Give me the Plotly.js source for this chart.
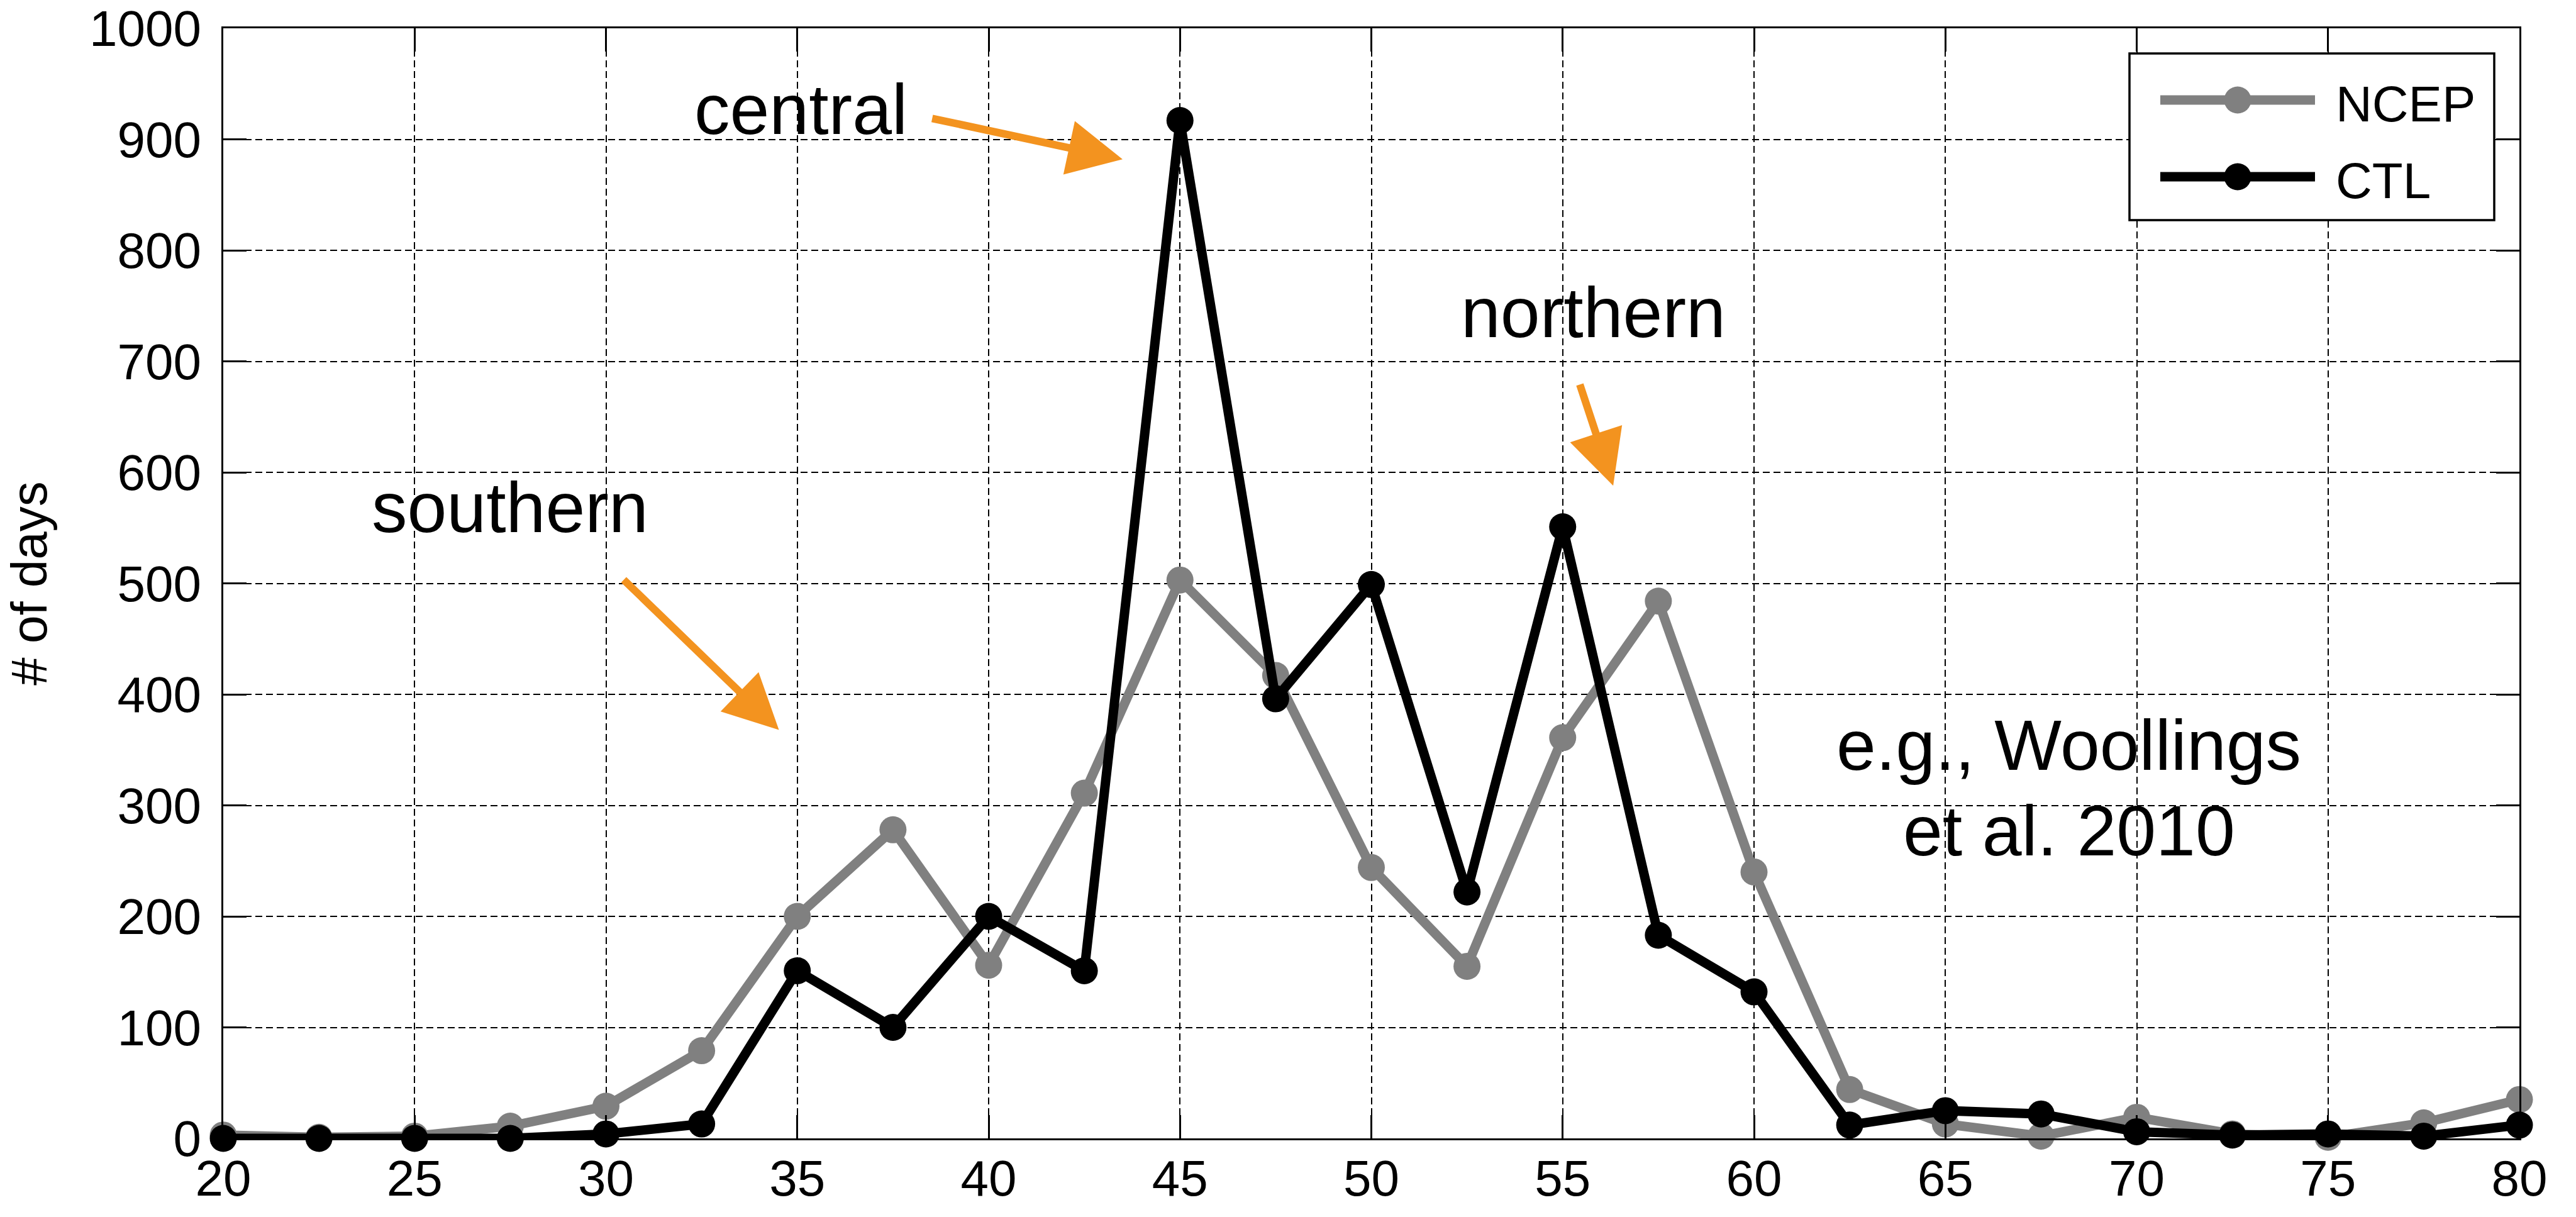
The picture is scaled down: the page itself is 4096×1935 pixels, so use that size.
<!DOCTYPE html>
<html>
<head>
<meta charset="utf-8">
<script src="https://cdn.plot.ly/plotly-3.0.1.min.js"></script>
<style>html,body{margin:0;padding:0;background:#fff;}#chart{width:4096px;height:1935px;}</style>
</head>
<body>
<div id="chart"></div>
<script>
// ---- data ----
const latitude = [20, 22.5, 25, 27.5, 30, 32.5, 35, 37.5, 40, 42.5, 45, 47.5, 50, 52.5, 55, 57.5, 60, 62.5, 65, 67.5, 70, 72.5, 75, 77.5, 80];
const ncepDays = [3, 1, 2, 11, 29, 79, 200, 278, 156, 311, 503, 417, 244, 155, 361, 484, 240, 44, 13, 2, 19, 4, 1, 14, 35];
const ctlDays  = [0, 0, 0, 0, 4, 13, 151, 100, 200, 151, 917, 396, 499, 222, 551, 183, 132, 12, 25, 22, 6, 3, 4, 2, 12];
const seriesNames = ['NCEP', 'CTL'];
const xTicks = [20, 25, 30, 35, 40, 45, 50, 55, 60, 65, 70, 75, 80];
const yTicks = [0, 100, 200, 300, 400, 500, 600, 700, 800, 900, 1000];
const yTitle = '# of days';
const labels = [
  {text: 'central', x: 35.1, y: 927},
  {text: 'southern', x: 27.5, y: 568},
  {text: 'northern', x: 55.8, y: 744},
  {text: 'e.g., Woollings', x: 68.23, y: 354},
  {text: 'et al. 2010', x: 68.23, y: 277}
];
const arrows = [
  {tailX: 38.5, tailY: 919, headX: 43.5, headY: 882},
  {tailX: 30.44, tailY: 504, headX: 34.52, headY: 368},
  {tailX: 55.44, tailY: 680, headX: 56.32, headY: 588}
];

// ---- styles ----
const FONT = 'Liberation Sans, Arial, Helvetica, sans-serif';
const colors = ['rgb(128,128,128)', '#000000'];
const ORANGE = '#f3931f';
const LW = 15, MS = 43;
const P = {l: 355, r: 4006, t: 45, b: 1810};
const fx = px => (px - P.l) / (P.r - P.l);
const fy = py => (P.b - py) / (P.b - P.t);

const traces = [ncepDays, ctlDays].map((vals, i) => ({
  type: 'scatter', mode: 'lines+markers', name: seriesNames[i],
  x: latitude, y: vals,
  line: {color: colors[i], width: LW},
  marker: {color: colors[i], size: MS, symbol: 'circle'},
  cliponaxis: false, showlegend: false
}));

const axisCommon = {
  showline: true, linecolor: '#000', linewidth: 3, mirror: 'ticks',
  ticks: 'inside', ticklen: 37, tickwidth: 3, tickcolor: '#000',
  showgrid: true, gridcolor: '#000', gridwidth: 2, griddash: '11px,6px',
  zeroline: false, tickfont: {family: FONT, size: 80, color: '#000'},
  fixedrange: true
};

const annotations = [];
labels.forEach(l => annotations.push({
  x: l.x, y: l.y, xref: 'x', yref: 'y', text: l.text, showarrow: false,
  xanchor: 'center', yanchor: 'middle', font: {family: FONT, size: 113, color: '#000'}
}));
arrows.forEach(a => annotations.push({
  x: a.headX, y: a.headY, ax: a.tailX, ay: a.tailY, xref: 'x', yref: 'y', axref: 'x', ayref: 'y',
  text: '', showarrow: true, arrowhead: 2, arrowsize: 1.45, arrowwidth: 12, arrowcolor: ORANGE
}));

// manual legend (box, swatches, labels)
const legendRows = [159, 281];
const shapes = [{
  type: 'rect', xref: 'paper', yref: 'paper', x0: fx(3386), x1: fx(3966), y0: fy(350), y1: fy(85),
  line: {color: '#000', width: 3.5}, fillcolor: '#fff', layer: 'above'
}];
seriesNames.forEach((n, i) => {
  const yy = legendRows[i];
  shapes.push({type: 'line', xref: 'paper', yref: 'paper', x0: fx(3435), x1: fx(3681), y0: fy(yy), y1: fy(yy),
    line: {color: colors[i], width: LW}, layer: 'above'});
  shapes.push({type: 'circle', xref: 'paper', yref: 'paper', x0: fx(3558 - MS / 2), x1: fx(3558 + MS / 2),
    y0: fy(yy + MS / 2), y1: fy(yy - MS / 2), fillcolor: colors[i], line: {width: 0}, layer: 'above'});
  annotations.push({x: fx(3712), y: fy(yy + 7), xref: 'paper', yref: 'paper', text: n, showarrow: false,
    xanchor: 'left', yanchor: 'middle', font: {family: FONT, size: 80, color: '#000'}});
});

const layout = {
  width: 4096, height: 1935, autosize: false,
  margin: {l: P.l, r: 4096 - P.r, t: P.t, b: 1935 - P.b, pad: 0},
  paper_bgcolor: '#fff', plot_bgcolor: '#fff',
  font: {family: FONT, color: '#000'},
  showlegend: false,
  xaxis: Object.assign({}, axisCommon, {range: [20, 80], tickvals: xTicks, ticktext: xTicks.map(String), ticklabelstandoff: -8}),
  yaxis: Object.assign({}, axisCommon, {range: [0, 1000], tickvals: yTicks, ticktext: yTicks.map(String), ticklabelstandoff: 16,
    title: {text: yTitle, font: {family: FONT, size: 80, color: '#000'}, standoff: 42}}),
  annotations: annotations,
  shapes: shapes
};

Plotly.newPlot('chart', traces, layout, {staticPlot: true, displayModeBar: false});
</script>
</body>
</html>
